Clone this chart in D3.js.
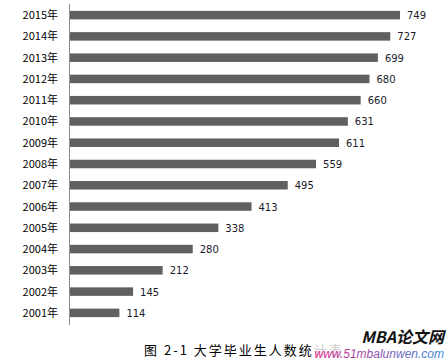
<!DOCTYPE html>
<html><head><meta charset="utf-8">
<script src="https://cdn.jsdelivr.net/npm/d3@7/dist/d3.min.js"></script>
<style>body{margin:0;background:#fff}svg{display:block}</style>
</head><body>
<svg id="c" width="447" height="360"></svg>
<script>
const years = ["2015年","2014年","2013年","2012年","2011年","2010年","2009年","2008年","2007年","2006年","2005年","2004年","2003年","2002年","2001年"];
const values = [749,727,699,680,660,631,611,559,495,413,338,280,212,145,114];
const title = "图 2-1  大学毕业生人数统计表";
const wmTitle = "MBA论文网";
const wmUrl = "www.51mbalunwen.com";

const svg = d3.select("#c");
const x = d3.scaleLinear().domain([0, 749]).range([69, 400]);
const y = d3.scaleBand().domain(years).range([4.5, 323.5]).paddingInner(0.6).paddingOuter(0.3);

svg.append("g").selectAll("rect").data(values).join("rect")
  .attr("x", x(0)).attr("y", (d,i)=>y(years[i]))
  .attr("width", d=>x(d)-x(0)).attr("height", y.bandwidth())
  .attr("fill", "#606060");

svg.append("line").attr("x1",69.5).attr("x2",69.5).attr("y1",4).attr("y2",325)
  .attr("stroke","#8c8c8c").attr("stroke-width",1);

svg.append("g").selectAll("text").data(years).join("text")
  .attr("x", 58).attr("y", d=>y(d)+y.bandwidth()/2+4)
  .attr("text-anchor","end")
  .attr("font-family","'Noto Sans CJK SC', sans-serif").attr("font-size",11).attr("fill","#000")
  .text(d=>d);

svg.append("g").selectAll("text").data(values).join("text")
  .attr("x", d=>x(d)+7).attr("y", (d,i)=>y(years[i])+y.bandwidth()/2+4)
  .attr("font-family","'DejaVu Sans', sans-serif").attr("font-size",10).attr("fill","#1a1a2a")
  .text(d=>d);

svg.append("text").attr("x",144).attr("y",355)
  .attr("font-family","'Noto Sans CJK SC', sans-serif").attr("font-size",13).attr("letter-spacing",2)
  .attr("fill","#000").text(title);

const grad = svg.append("defs").append("linearGradient").attr("id","wg");
grad.append("stop").attr("offset","0").attr("stop-color","#e0208a");
grad.append("stop").attr("offset","1").attr("stop-color","#3a8ad8");
svg.append("rect").attr("x",314).attr("y",332).attr("width",133).attr("height",28).attr("fill","#fff").attr("opacity",0.8);
svg.append("text").attr("x",444).attr("y",343).attr("text-anchor","end")
  .attr("font-family","'Noto Sans CJK SC', sans-serif").attr("font-size",16).attr("font-weight","bold").attr("font-style","italic")
  .attr("fill","#111").text(wmTitle);
svg.append("text").attr("x",444).attr("y",358).attr("text-anchor","end")
  .attr("font-family","'Liberation Sans', Arial, sans-serif").attr("font-size",12).attr("font-style","italic")
  .attr("fill","url(#wg)").text(wmUrl);
</script>
</body></html>
